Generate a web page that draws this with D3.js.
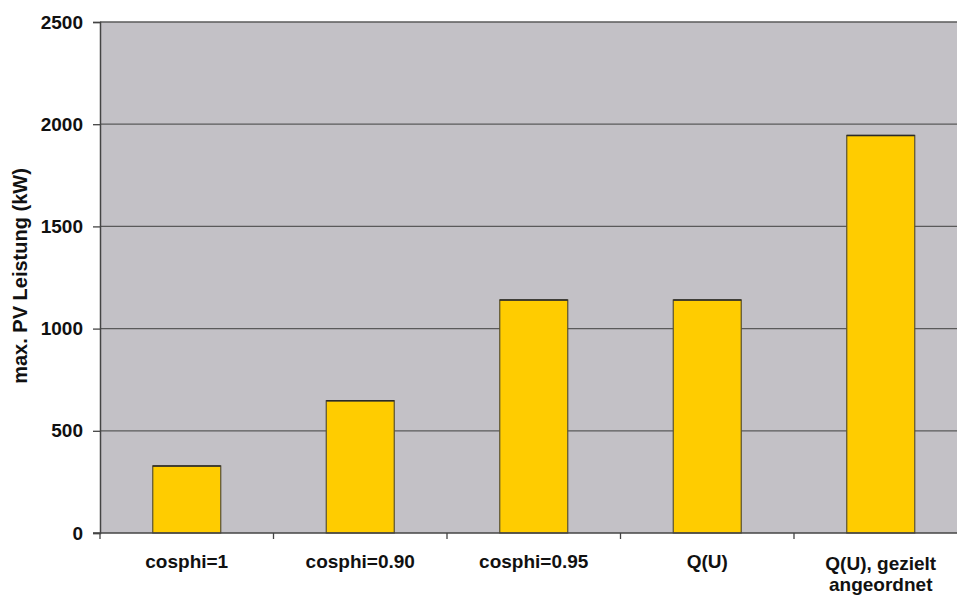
<!DOCTYPE html>
<html>
<head>
<meta charset="utf-8">
<script src="https://cdn.jsdelivr.net/npm/d3@7"></script>
<style>
  html, body { margin: 0; padding: 0; background: #ffffff; }
  svg { display: block; }
  text { font-family: "Liberation Sans", Arial, sans-serif; font-weight: bold; fill: #111; }
</style>
</head>
<body>
<svg id="chart" width="957" height="596"></svg>
<script>
// Maximum PV capacity per reactive-power strategy
const categories = ["cosphi=1", "cosphi=0.90", "cosphi=0.95", "Q(U)", "Q(U), gezielt angeordnet"];
const categoryLines = [["cosphi=1"], ["cosphi=0.90"], ["cosphi=0.95"], ["Q(U)"], ["Q(U), gezielt", "angeordnet"]];
const values = [328, 647, 1140, 1140, 1945];
const yTicks = [0, 500, 1000, 1500, 2000, 2500];
const yLabel = "max. PV Leistung (kW)";

const svg = d3.select("#chart");
const plot = { left: 100, top: 22, width: 867.5, height: 511 };

const x = d3.scaleBand()
  .domain(categories)
  .range([plot.left, plot.left + plot.width])
  .paddingInner(0).paddingOuter(0);

const y = d3.scaleLinear()
  .domain([0, 2500])
  .range([plot.top + plot.height, plot.top]);

// plot background
svg.append("rect")
  .attr("x", plot.left).attr("y", plot.top)
  .attr("width", plot.width).attr("height", plot.height)
  .attr("fill", "#c3c1c6");

// horizontal gridlines
svg.append("g")
  .selectAll("line")
  .data(yTicks.filter(d => d > 0))
  .join("line")
  .attr("x1", plot.left).attr("x2", plot.left + plot.width)
  .attr("y1", d => y(d)).attr("y2", d => y(d))
  .attr("stroke", "#5a5a5a").attr("stroke-width", 1.3);

// bars
const barWidth = 68;
const bars = svg.append("g");
bars.selectAll("rect")
  .data(values)
  .join("rect")
  .attr("x", (d, i) => x(categories[i]) + x.bandwidth() / 2 - barWidth / 2)
  .attr("y", d => y(d))
  .attr("width", barWidth)
  .attr("height", d => y(0) - y(d))
  .attr("fill", "#ffcc00")
  .attr("stroke", "#5a5230")
  .attr("stroke-width", 1.2);
// darker top edge on each bar
bars.selectAll("line")
  .data(values)
  .join("line")
  .attr("x1", (d, i) => x(categories[i]) + x.bandwidth() / 2 - barWidth / 2)
  .attr("x2", (d, i) => x(categories[i]) + x.bandwidth() / 2 + barWidth / 2)
  .attr("y1", d => y(d)).attr("y2", d => y(d))
  .attr("stroke", "#2a2a2a")
  .attr("stroke-width", 1.5);

// y axis
const yAxis = d3.axisLeft(y)
  .tickValues(yTicks)
  .tickSize(7)
  .tickPadding(10)
  .tickFormat(d3.format("d"));
const gy = svg.append("g")
  .attr("transform", `translate(${plot.left},0)`)
  .call(yAxis);
gy.select(".domain").attr("stroke", "#444").attr("stroke-width", 1.5);
gy.selectAll(".tick line").attr("stroke", "#444").attr("stroke-width", 1.3);
gy.selectAll(".tick text")
  .attr("font-size", 19)
  .attr("font-family", "'Liberation Sans', Arial, sans-serif")
  .attr("font-weight", "bold")
  .attr("fill", "#111");

// x axis line and tick marks at category boundaries
const boundaries = categories.map(c => x(c)).concat([plot.left + plot.width]);
svg.append("line")
  .attr("x1", plot.left - 7).attr("x2", plot.left + plot.width)
  .attr("y1", y(0)).attr("y2", y(0))
  .attr("stroke", "#444").attr("stroke-width", 1.5);
svg.append("g")
  .selectAll("line")
  .data(boundaries)
  .join("line")
  .attr("x1", d => d).attr("x2", d => d)
  .attr("y1", y(0)).attr("y2", y(0) + 6)
  .attr("stroke", "#444").attr("stroke-width", 1.3);

// category labels
const labels = svg.append("g")
  .selectAll("text")
  .data(categories)
  .join("text")
  .attr("x", d => x(d) + x.bandwidth() / 2)
  .attr("y", 568)
  .attr("text-anchor", "middle")
  .attr("font-size", 19);
labels.each(function (d, i) {
  const lines = categoryLines[i];
  d3.select(this).selectAll("tspan")
    .data(lines)
    .join("tspan")
    .attr("x", x(d) + x.bandwidth() / 2)
    .attr("dy", (l, j) => j === 0 ? (lines.length > 1 ? 2 : 0) : 21)
    .text(l => l);
});

// y axis title
svg.append("text")
  .attr("transform", `translate(27,276) rotate(-90)`)
  .attr("text-anchor", "middle")
  .attr("font-size", 20)
  .text(yLabel);
</script>
</body>
</html>
